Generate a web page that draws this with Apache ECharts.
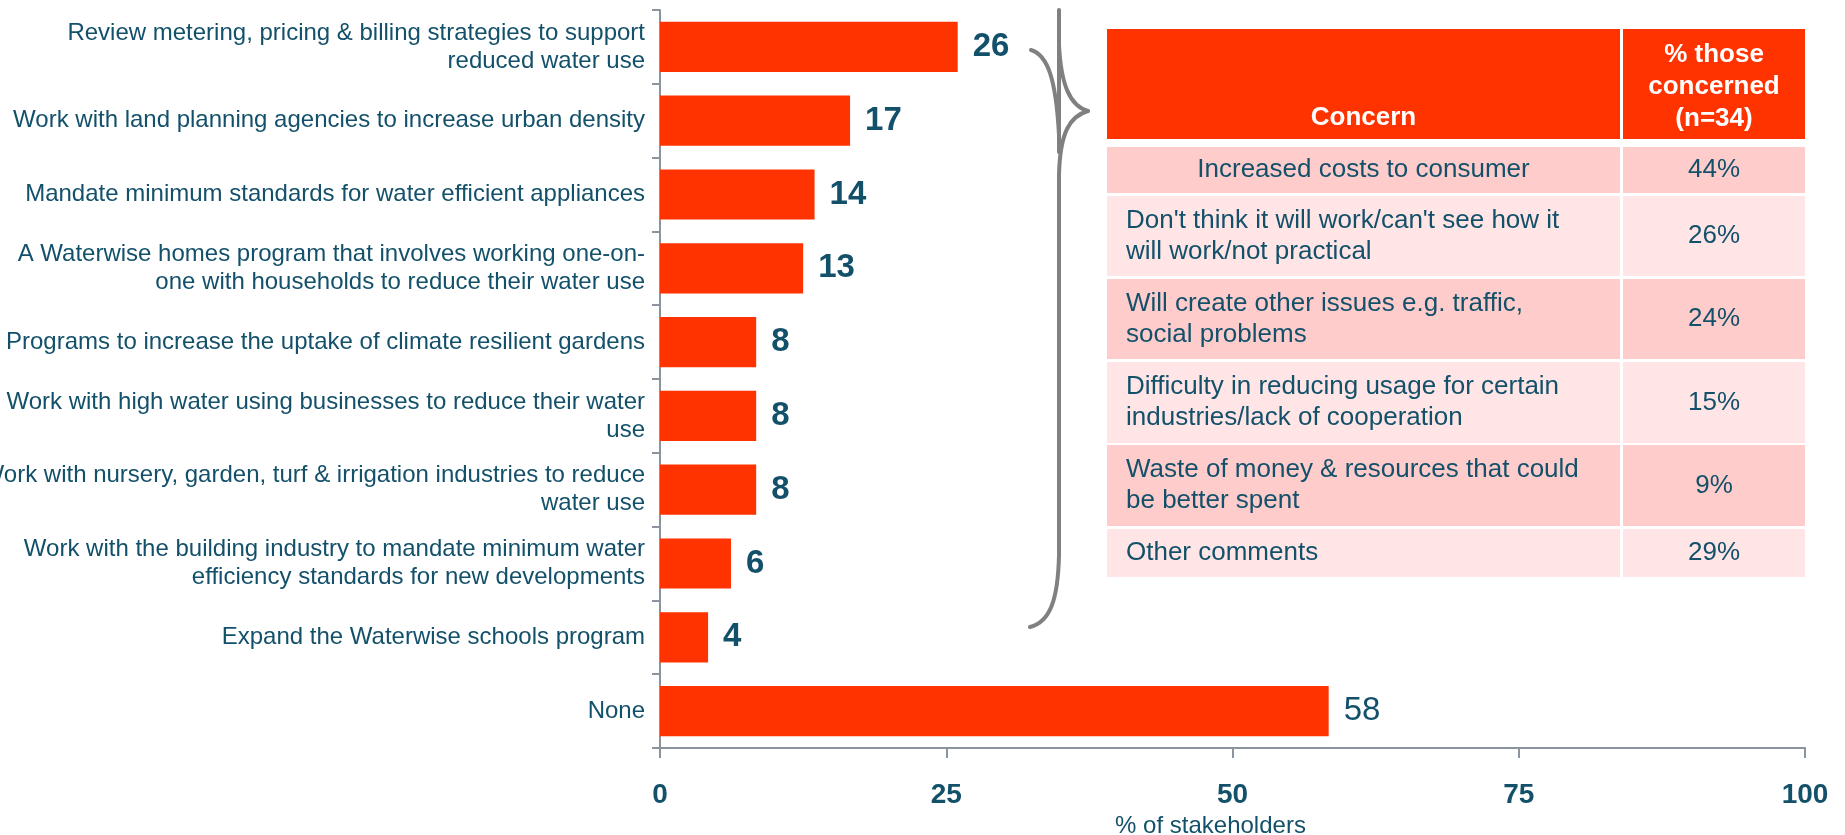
<!DOCTYPE html>
<html>
<head>
<meta charset="utf-8">
<script src="https://cdn.jsdelivr.net/npm/echarts@6/dist/echarts.min.js"></script>
<style>
html,body{margin:0;padding:0;background:#fff;}
#chart{width:1845px;height:835px;}
</style>
</head>
<body>
<div id="chart"></div>
<script>
// ---- data ----
const categories = [
  "Review metering, pricing & billing strategies to support\nreduced water use",
  "Work with land planning agencies to increase urban density",
  "Mandate minimum standards for water efficient appliances",
  "A Waterwise homes program that involves working one-on-\none with households to reduce their water use",
  "Programs to increase the uptake of climate resilient gardens",
  "Work with high water using businesses to reduce their water\nuse",
  "Work with nursery, garden, turf & irrigation industries to reduce\nwater use",
  "Work with the building industry to mandate minimum water\nefficiency standards for new developments",
  "Expand the Waterwise schools program",
  "None"
];
const stakeholderPct = [26.0, 16.6, 13.5, 12.5, 8.4, 8.4, 8.4, 6.2, 4.2, 58.4];
const xTicks = [0, 25, 50, 75, 100];
const xAxisName = "% of stakeholders";

const tableHeader = ["Concern", "% those\nconcerned\n(n=34)"];
const concerns = [
  "Increased costs to consumer",
  "Don't think it will work/can't see how it\nwill work/not practical",
  "Will create other issues e.g. traffic,\nsocial problems",
  "Difficulty in reducing usage for certain\nindustries/lack of cooperation",
  "Waste of money & resources that could\nbe better spent",
  "Other comments"
];
const concernPct = ["44%", "26%", "24%", "15%", "9%", "29%"];

// ---- styling / layout ----
const TEAL = '#13506A';
const RED = '#FF3300';
const AXIS = '#8A949E';
const FONT = 'Liberation Sans';

const chart = echarts.init(document.getElementById('chart'), null, {renderer: 'canvas'});

// table layout
const tX0 = 1107, tSplit = 1620, tX1 = 1805, tSplit2 = 1623;
const headerTop = 29, headerBot = 139;
const rowTops = [147, 196, 279, 362, 445, 529];
const rowBots = [193, 276, 359, 443, 526, 577];
const rowColors = ['#FFCCCC', '#FFE5E5'];

const graphics = [];
graphics.push({type:'rect', shape:{x:tX0, y:headerTop, width:tSplit - tX0, height:headerBot - headerTop}, style:{fill:RED}, silent:true});
graphics.push({type:'rect', shape:{x:tSplit2, y:headerTop, width:tX1 - tSplit2, height:headerBot - headerTop}, style:{fill:RED}, silent:true});
graphics.push({type:'text', style:{text:tableHeader[0], x:(tX0 + tSplit)/2, y:118, align:'center', verticalAlign:'middle', fill:'#fff', fontSize:26, fontWeight:'bold', fontFamily:FONT}, silent:true});
graphics.push({type:'text', style:{text:tableHeader[1], x:(tSplit2 + tX1)/2, y:87, align:'center', verticalAlign:'middle', lineHeight:32, fill:'#fff', fontSize:26, fontWeight:'bold', fontFamily:FONT}, silent:true});
concerns.forEach((c, i) => {
  const top = rowTops[i], bot = rowBots[i], col = rowColors[i % 2];
  graphics.push({type:'rect', shape:{x:tX0, y:top, width:tSplit - tX0, height:bot - top}, style:{fill:col}, silent:true});
  graphics.push({type:'rect', shape:{x:tSplit2, y:top, width:tX1 - tSplit2, height:bot - top}, style:{fill:col}, silent:true});
  const cy = (top + bot) / 2;
  if (i === 0) {
    graphics.push({type:'text', style:{text:c, x:(tX0 + tSplit)/2, y:cy, align:'center', verticalAlign:'middle', fill:TEAL, fontSize:26, fontFamily:FONT}, silent:true});
  } else {
    graphics.push({type:'text', style:{text:c, x:1126, y:cy, align:'left', verticalAlign:'middle', lineHeight:31, fill:TEAL, fontSize:26, fontFamily:FONT}, silent:true});
  }
  graphics.push({type:'text', style:{text:concernPct[i], x:(tSplit2 + tX1)/2, y:cy, align:'center', verticalAlign:'middle', fill:TEAL, fontSize:26, fontFamily:FONT}, silent:true});
});
// brace
const braceStyle = {stroke:'#808080', lineWidth:4, fill:null, lineCap:'round'};
function bez(x1, y1, c1x, c1y, c2x, c2y, x2, y2) {
  return {type:'bezierCurve', shape:{x1:x1, y1:y1, cpx1:c1x, cpy1:c1y, cpx2:c2x, cpy2:c2y, x2:x2, y2:y2}, style:braceStyle, silent:true};
}
function seg(x1, y1, x2, y2) {
  return {type:'line', shape:{x1:x1, y1:y1, x2:x2, y2:y2}, style:braceStyle, silent:true};
}
graphics.push(seg(1059, 10, 1059, 152));
graphics.push(bez(1031, 50, 1048, 55, 1056, 80, 1059, 135));
graphics.push(bez(1059, 45, 1061, 85, 1070, 106, 1088, 111));
graphics.push(bez(1088, 111, 1070, 116, 1060, 132, 1059, 175));
graphics.push(seg(1059, 175, 1059, 555));
graphics.push(bez(1059, 555, 1058, 600, 1050, 622, 1030, 627));

const seriesData = stakeholderPct.map((v, i) => {
  const item = {value: v};
  if (categories[i] === 'None') item.label = {fontWeight: 'normal'};
  return item;
});

chart.setOption({
  animation: false,
  backgroundColor: '#fff',
  grid: {left: 660, right: 40, top: 10, bottom: 87, containLabel: false, outerBoundsMode: 'none'},
  xAxis: {
    type: 'value', min: xTicks[0], max: xTicks[xTicks.length - 1], interval: 25,
    splitLine: {show: false},
    axisLine: {show: true, lineStyle: {color: AXIS, width: 2}},
    axisTick: {show: true, length: 10, lineStyle: {color: AXIS, width: 2}},
    axisLabel: {color: TEAL, fontSize: 28, fontWeight: 'bold', fontFamily: FONT, margin: 33},
    name: xAxisName, nameLocation: 'middle', nameGap: 62,
    nameTextStyle: {color: TEAL, fontSize: 24, fontFamily: FONT, padding: [0, 44, 0, 0]}
  },
  yAxis: {
    type: 'category', inverse: true, data: categories,
    axisLine: {show: true, lineStyle: {color: AXIS, width: 2}},
    axisTick: {show: true, length: 8, lineStyle: {color: AXIS, width: 2}},
    axisLabel: {color: TEAL, fontSize: 24, lineHeight: 28, fontFamily: FONT, margin: 15, align: 'right'}
  },
  series: [{
    type: 'bar', data: seriesData, barCategoryGap: '32%',
    itemStyle: {color: RED},
    label: {show: true, position: 'right', distance: 15, color: TEAL, fontSize: 33, fontWeight: 'bold', fontFamily: FONT,
      formatter: p => String(Math.round(p.value))}
  }],
  graphic: graphics
});
</script>
</body>
</html>
